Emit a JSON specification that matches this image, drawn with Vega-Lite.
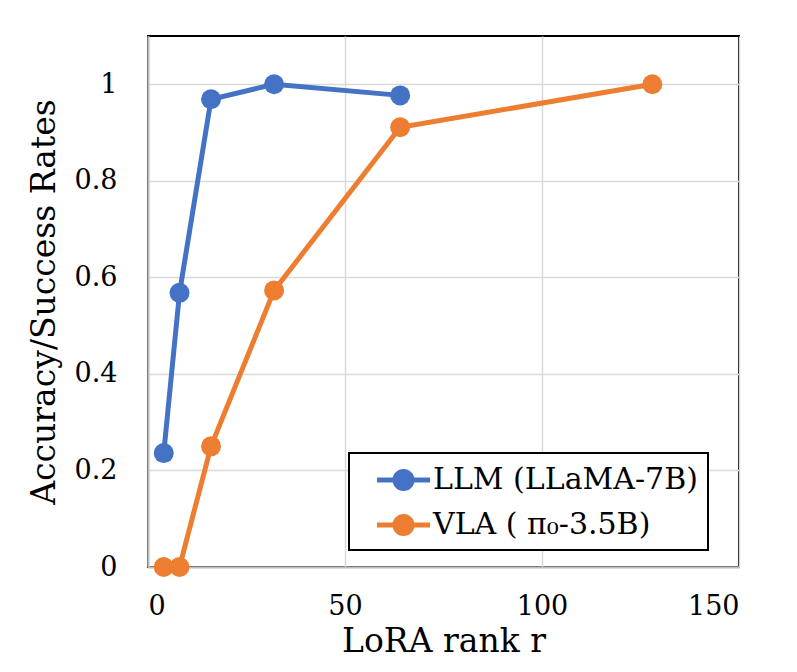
{
  "$schema": "https://vega.github.io/schema/vega-lite/v6.json",
  "width": 591,
  "height": 531,
  "autosize": {"type": "none"},
  "padding": {"left": 148, "top": 36, "right": 58, "bottom": 105},
  "background": "white",
  "config": {
    "view": {"stroke": "black", "strokeWidth": 2},
    "font": "DejaVu Serif",
    "axis": {
      "labelFont": "DejaVu Serif",
      "titleFont": "DejaVu Serif",
      "labelColor": "black",
      "titleColor": "black",
      "titleFontWeight": "normal",
      "labelFontSize": 27,
      "titleFontSize": 33,
      "ticks": false,
      "tickSize": 0,
      "domainColor": "#BFBFBF",
      "domainWidth": 2,
      "gridColor": "#D9D9D9",
      "gridWidth": 1.5
    },
    "legend": {"labelFont": "DejaVu Serif"}
  },
  "data": {
    "values": [
      {"r": 4, "value": 0.236, "series": "LLM (LLaMA-7B)"},
      {"r": 8, "value": 0.568, "series": "LLM (LLaMA-7B)"},
      {"r": 16, "value": 0.969, "series": "LLM (LLaMA-7B)"},
      {"r": 32, "value": 1.0, "series": "LLM (LLaMA-7B)"},
      {"r": 64, "value": 0.977, "series": "LLM (LLaMA-7B)"},
      {"r": 4, "value": 0.0, "series": "VLA ( π₀-3.5B)"},
      {"r": 8, "value": 0.0, "series": "VLA ( π₀-3.5B)"},
      {"r": 16, "value": 0.25, "series": "VLA ( π₀-3.5B)"},
      {"r": 32, "value": 0.573, "series": "VLA ( π₀-3.5B)"},
      {"r": 64, "value": 0.911, "series": "VLA ( π₀-3.5B)"},
      {"r": 128, "value": 1.0, "series": "VLA ( π₀-3.5B)"}
    ]
  },
  "encoding": {
    "x": {
      "field": "r",
      "type": "quantitative",
      "scale": {"domain": [0, 150], "nice": false},
      "axis": {"values": [0, 50, 100, 150], "title": "LoRA rank r", "labelPadding": 26, "titlePadding": 6}
    },
    "y": {
      "field": "value",
      "type": "quantitative",
      "scale": {"domain": [0, 1.1], "nice": false},
      "axis": {"values": [0, 0.2, 0.4, 0.6, 0.8, 1], "format": "~g", "title": "Accuracy/Success Rates", "labelPadding": 31, "titlePadding": 13}
    },
    "color": {
      "field": "series",
      "type": "nominal",
      "scale": {"domain": ["LLM (LLaMA-7B)", "VLA ( π₀-3.5B)"], "range": ["#4472C4", "#ED7D31"]},
      "legend": {
        "title": null,
        "orient": "none",
        "legendX": 201,
        "legendY": 417,
        "padding": 10,
        "rowPadding": 13,
        "symbolType": "M0.06,-0.15H1V0.15H0.06Z M2.24,-0.15H3.18V0.15H2.24Z M0.97,0A0.65,0.65 0 1,1 2.27,0A0.65,0.65 0 1,1 0.97,0Z",
        "symbolSize": 1156,
        "symbolStrokeWidth": 0,
        "symbolOpacity": 1,
        "labelOffset": 40,
        "labelFontSize": 30,
        "labelColor": "black",
        "labelLimit": 0,
        "strokeColor": "black",
        "fillColor": "white",
        "encode": {
          "legend": {"update": {"strokeWidth": {"value": 2}}},
          "symbols": {
            "update": {
              "fill": {"scale": "color", "field": "value"},
              "stroke": {"value": "transparent"},
              "opacity": {"value": 1}
            }
          }
        }
      }
    }
  },
  "layer": [
    {"mark": {"type": "line", "strokeWidth": 5}},
    {"mark": {"type": "point", "filled": true, "shape": "circle", "size": 400, "opacity": 1}}
  ]
}
